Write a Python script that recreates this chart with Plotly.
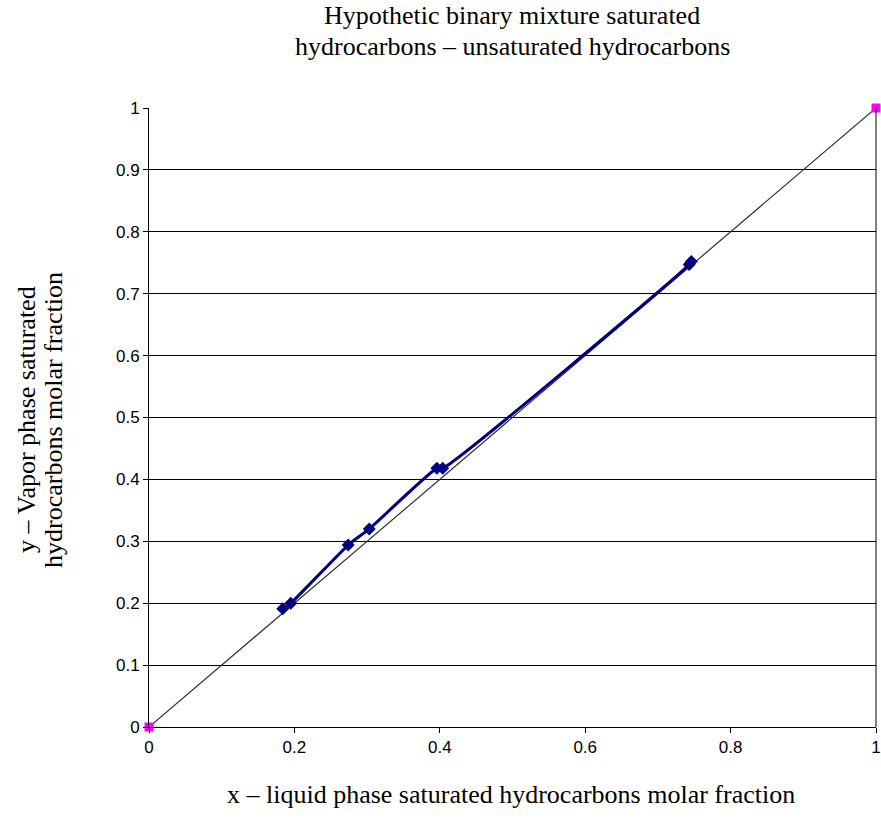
import plotly.graph_objects as go

# Data
x_liquid = [0.184, 0.195, 0.274, 0.303, 0.396, 0.404, 0.743, 0.746]
y_vapor = [0.191, 0.200, 0.294, 0.320, 0.418, 0.418, 0.747, 0.752]
diag_x = [0, 1]
diag_y = [0, 1]
tick_vals_x = [0, 0.2, 0.4, 0.6, 0.8, 1]
tick_text_x = ["0", "0.2", "0.4", "0.6", "0.8", "1"]
tick_vals_y = [0, 0.1, 0.2, 0.3, 0.4, 0.5, 0.6, 0.7, 0.8, 0.9, 1]
tick_text_y = ["0", "0.1", "0.2", "0.3", "0.4", "0.5", "0.6", "0.7", "0.8", "0.9", "1"]

title_lines = ["Hypothetic binary mixture saturated", "hydrocarbons – unsaturated hydrocarbons"]
x_title = "x – liquid phase saturated hydrocarbons molar fraction"
y_title_lines = ["y – Vapor phase saturated", "hydrocarbons molar fraction"]

serif = "Liberation Serif, Times New Roman, serif"
sans = "Liberation Sans, Arial, sans-serif"

W, H = 881, 820
L, R, T, B = 149, 5, 108, 93
plot_w = W - L - R
plot_h = H - T - B

fig = go.Figure()
fig.add_trace(go.Scatter(
    x=diag_x, y=diag_y, mode="lines+markers",
    line=dict(color="#333333", width=1.2),
    marker=dict(symbol="square", size=9, color="#ff00ff"),
    cliponaxis=False, showlegend=False,
))
fig.add_trace(go.Scatter(
    x=x_liquid, y=y_vapor, mode="lines+markers",
    line=dict(color="#000080", width=3, shape="spline", smoothing=0.6),
    marker=dict(symbol="diamond", size=10, color="#000080"),
    cliponaxis=False, showlegend=False,
))

def px_y(py):
    return (H - B - py) / plot_h

def px_x(pxv):
    return (pxv - L) / plot_w

annotations = []
for i, line in enumerate(title_lines):
    annotations.append(dict(text=line, x=px_x(512), y=px_y(15 + 31 * i), xref="paper", yref="paper",
                            xanchor="center", yanchor="middle", showarrow=False,
                            font=dict(family=serif, size=26, color="black")))
annotations.append(dict(text=x_title, x=px_x(511), y=px_y(795), xref="paper", yref="paper",
                        xanchor="center", yanchor="middle", showarrow=False,
                        font=dict(family=serif, size=26, color="black")))
for i, line in enumerate(y_title_lines):
    annotations.append(dict(text=line, x=px_x(27 + 27 * i), y=px_y(420), xref="paper", yref="paper",
                            xanchor="center", yanchor="middle", showarrow=False, textangle=-90,
                            font=dict(family=serif, size=26, color="black")))

fig.update_layout(
    width=W, height=H,
    margin=dict(l=L, r=R, t=T, b=B),
    paper_bgcolor="white", plot_bgcolor="white",
    showlegend=False,
    xaxis=dict(
        range=[0, 1], tickvals=tick_vals_x, ticktext=tick_text_x,
        showgrid=False, zeroline=False, automargin=False,
        showline=True, linecolor="black", linewidth=1,
        ticks="outside", ticklen=5, tickcolor="black",
        tickfont=dict(family=sans, size=17, color="black"),
    ),
    yaxis=dict(
        range=[0, 1], tickvals=tick_vals_y, ticktext=tick_text_y,
        showgrid=True, gridcolor="black", gridwidth=1, zeroline=False, automargin=False,
        showline=True, linecolor="black", linewidth=1,
        ticks="outside", ticklen=5, tickcolor="black",
        tickfont=dict(family=sans, size=17, color="black"),
    ),
    annotations=annotations,
    shapes=[dict(type="line", xref="paper", yref="paper", x0=1, x1=1, y0=0, y1=1,
                 line=dict(color="black", width=1))],
)

fig.write_html("out.html", config={"displayModeBar": False},
               post_script="document.body.style.margin='0';document.body.style.overflow='hidden';")
